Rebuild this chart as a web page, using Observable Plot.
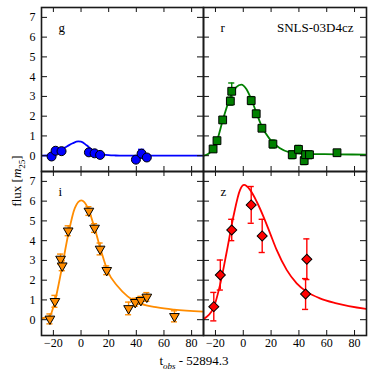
<!DOCTYPE html>
<html><head><meta charset="utf-8">
<script src="https://cdn.jsdelivr.net/npm/d3@7"></script>
<script src="https://cdn.jsdelivr.net/npm/@observablehq/plot@0.6"></script>
<style>
html,body{margin:0;padding:0;background:#fff;}
#chart{position:relative;width:373px;height:373px;font-family:"Liberation Serif",serif;}
#chart svg{position:absolute;left:0;top:0;}
#chart svg, #chart svg text{font-family:"Liberation Serif",serif !important;}
.lbl{position:absolute;color:#000;font-size:13px;line-height:16px;white-space:nowrap;text-align:center;}
</style></head><body><div id="chart"></div>
<script>
// Axis ticks
const xTicks = [-20, 0, 20, 40, 60, 80];
const yTicks = [0, 1, 2, 3, 4, 5, 6, 7];
const xDomain = [-28.6, 88.6];
const yDomain = [-0.8, 7.5];

// g band
const gT    = [-21.3, -18.4, -14.1, 5.7, 9.8, 13.8, 39.7, 43.8, 47.6];
const gFlux = [-0.04, 0.25, 0.23, 0.17, 0.12, 0.04, -0.2, 0.1, -0.09];
const gErr  = [0.1, 0.1, 0.1, 0.1, 0.1, 0.1, 0.12, 0.22, 0.12];
const gCurveT    = [-28.6, -24, -21, -18, -14, -10, -6, -2, 0, 4, 8, 12, 16, 20, 25, 30, 88.6];
const gCurveFlux = [0, 0.01, 0.06, 0.17, 0.32, 0.48, 0.63, 0.72, 0.71, 0.53, 0.3, 0.15, 0.07, 0.03, 0.01, 0, 0];

// r band
const rT    = [-21.7, -18.9, -14.8, -9.3, -8.3, 5.7, 9.3, 13.4, 21.3, 35.2, 39.7, 43.8, 44.8, 47.6, 67.4];
const rFlux = [0.34, 0.76, 1.81, 2.76, 3.26, 2.79, 2.12, 1.39, 0.59, 0.05, 0.32, -0.25, 0.05, 0.05, 0.15];
const rErr  = [0.15, 0.15, 0.15, 0.2, 0.42, 0.2, 0.18, 0.15, 0.2, 0.2, 0.2, 0.2, 0.2, 0.2, 0.15];
const rCurveT    = [-28.6, -25, -21.7, -18.9, -14.8, -9.8, -5, -1.4, 2.2, 5.7, 9.3, 13.4, 18.9, 26.1, 33.3, 42.9, 66.8, 88.6];
const rCurveFlux = [0, 0.1, 0.34, 0.76, 1.78, 2.88, 3.47, 3.6, 3.38, 2.87, 2.2, 1.47, 0.85, 0.39, 0.17, 0.09, 0.07, 0.05];

// i band
const iT    = [-22.5, -18.9, -14.8, -13.6, -9.3, 5.7, 9.8, 13.8, 18.6, 34.4, 39.2, 43.3, 47.6, 67.6];
const iFlux = [0.04, 0.93, 3.07, 2.73, 4.5, 5.5, 4.64, 3.58, 2.5, 0.57, 0.88, 0.98, 1.15, 0.17];
const iErr  = [0.25, 0.3, 0.25, 0.25, 0.25, 0.22, 0.22, 0.3, 0.22, 0.32, 0.2, 0.2, 0.22, 0.28];
const iCurveT    = [-28.6, -22.5, -18.9, -14.1, -9.3, -4.5, 0.2, 5, 9.8, 14.6, 19.3, 26.5, 33.7, 43.3, 55.2, 67.2, 88.6];
const iCurveFlux = [0.06, 0.2, 0.93, 2.53, 4.3, 5.65, 6.04, 5.65, 4.64, 3.46, 2.45, 1.69, 1.18, 0.81, 0.62, 0.51, 0.41];

// z band
const zT    = [-21.2, -16.5, -8.3, 5.7, 13.6, 45.7, 44.8];
const zFlux = [0.66, 2.26, 4.54, 5.81, 4.24, 3.06, 1.30];
const zErr  = [0.72, 0.76, 0.54, 0.93, 0.84, 1.03, 0.78];
const zCurveT    = [-28.6, -21.5, -16.7, -11.9, -7.1, -2.3, 0.6, 4.9, 9.7, 14.5, 19.3, 24, 31.2, 38.4, 45.5, 55.1, 67, 88.6];
const zCurveFlux = [0.03, 0.58, 1.76, 3.44, 5.22, 6.57, 6.82, 6.57, 5.97, 5.22, 4.37, 3.53, 2.52, 1.84, 1.42, 1.08, 0.83, 0.54];

const capHalf = 2.2;

function panel(o) {
  const obs = o.t.map((d, i) => ({t: d, v: o.flux[i], e: o.err[i]}));
  const curve = o.ct.map((d, i) => ({t: d, v: o.cf[i]}));
  const [left, right] = o.col === 0 ? [41, 170] : [203, 7];
  const [top, bottom] = o.row === 0 ? [7, 202] : [171, 38];
  const W = 373 - left - right, H = 373 - top - bottom;
  const marks = [
    Plot.line(curve, {x: "t", y: "v", stroke: o.color, strokeWidth: 1.8, curve: "monotone-x", clip: "frame"}),
    Plot.ruleX(obs, {x: "t", y1: d => d.v - d.e, y2: d => d.v + d.e, stroke: o.color, strokeWidth: 1.4}),
    Plot.ruleY(obs, {y: d => d.v - d.e, x1: d => d.t - capHalf, x2: d => d.t + capHalf, stroke: o.color, strokeWidth: 1.4}),
    Plot.ruleY(obs, {y: d => d.v + d.e, x1: d => d.t - capHalf, x2: d => d.t + capHalf, stroke: o.color, strokeWidth: 1.4}),
    Plot.dot(obs, {x: "t", y: "v", symbol: o.symbol, rotate: o.rotate, r: o.r, fill: o.color, stroke: "black", strokeWidth: 1}),
    Plot.tickX(xTicks, {x: d => d, insetTop: H - 5, stroke: "#111"}),
    Plot.tickX(xTicks, {x: d => d, insetBottom: H - 5, stroke: "#111"}),
    Plot.tickY(yTicks, {y: d => d, insetRight: W - 6, stroke: "#111"}),
    Plot.tickY(yTicks, {y: d => d, insetLeft: W - 6, stroke: "#111"}),
    Plot.frame({stroke: "#1a1a1a", strokeWidth: 1.6}),
    Plot.text([o.band], {text: d => d, frameAnchor: "top-left", textAnchor: "start", lineAnchor: "top", dx: 17, dy: 15, fontSize: 13})
  ];
  if (o.note) marks.push(Plot.text([o.note], {text: d => d, frameAnchor: "top-right", textAnchor: "end", lineAnchor: "top", dx: -13, dy: 15, fontSize: 13}));
  if (o.col === 0) marks.push(Plot.axisY(yTicks, {anchor: "left", tickSize: 0, tickPadding: 6, label: null, fontSize: 12}));
  if (o.row === 1) marks.push(Plot.axisX(xTicks, {anchor: "bottom", tickSize: 0, tickPadding: 3, label: null, fontSize: 12}));
  return Plot.plot({
    width: 373, height: 373,
    marginLeft: left, marginRight: right, marginTop: top, marginBottom: bottom,
    x: {domain: xDomain, axis: o.row === 1 ? undefined : null},
    y: {domain: yDomain, axis: o.col === 0 ? undefined : null},
    style: {fontFamily: "'Liberation Serif', serif", fontSize: "12px", background: "transparent", overflow: "visible", color: "#000"},
    marks
  });
}

const chart = document.getElementById("chart");
chart.append(panel({band: "g", t: gT, flux: gFlux, err: gErr, ct: gCurveT, cf: gCurveFlux, color: "#0000ff", symbol: "circle", rotate: 0, r: 4.5, col: 0, row: 0}));
chart.append(panel({band: "r", note: "SNLS-03D4cz", t: rT, flux: rFlux, err: rErr, ct: rCurveT, cf: rCurveFlux, color: "#008000", symbol: "square", rotate: 0, r: 4.4, col: 1, row: 0}));
chart.append(panel({band: "i", t: iT, flux: iFlux, err: iErr, ct: iCurveT, cf: iCurveFlux, color: "#ff8c00", symbol: "triangle", rotate: 180, r: 3.6, col: 0, row: 1}));
chart.append(panel({band: "z", t: zT, flux: zFlux, err: zErr, ct: zCurveT, cf: zCurveFlux, color: "#ff0000", symbol: "square", rotate: 45, r: 4.0, col: 1, row: 1}));

const xl = document.createElement("div");
xl.className = "lbl";
xl.style.left = "94px"; xl.style.width = "200px"; xl.style.top = "353px";
xl.innerHTML = "t<sub style='font-size:9px;line-height:0'><i>obs</i></sub> - 52894.3";
chart.append(xl);

const yl = document.createElement("div");
yl.className = "lbl";
yl.style.left = "-33px"; yl.style.width = "100px"; yl.style.top = "173px";
yl.style.transform = "rotate(-90deg)";
yl.innerHTML = "flux [<i>m</i><sub style='font-size:9px;line-height:0'>25</sub>]";
chart.append(yl);
</script>
</body></html>
